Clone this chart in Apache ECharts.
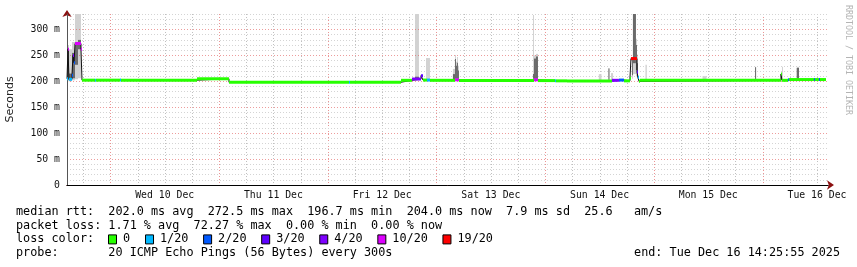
<!DOCTYPE html>
<html><head><meta charset="utf-8">
<script src="https://cdn.jsdelivr.net/npm/echarts@6/dist/echarts.min.js"></script>
<style>html,body{margin:0;padding:0;background:#fff}#c{width:857px;height:267px}</style>
</head><body><div id="c"></div>
<script>
// ---- time axis: hours since graph start (Tue Dec 9 14:25:55 2025), span 7 days ----
const spanH = 168;
const firstMidnightH = 9.568;           // Wed 10 Dec 00:00 in hours from start
const dayLabels = ['Wed 10 Dec','Thu 11 Dec','Fri 12 Dec','Sat 13 Dec','Sun 14 Dec','Mon 15 Dec','Tue 16 Dec'];
const yMin = 0, yMax = 330, yStep = 10;
const yLabelValues = [0, 50, 100, 150, 200, 250, 300];

// ---- median rtt (ms) per segment start (hours) and packet loss (of 20) ----
const medT = [0, 0.22, 0.44, 1.10, 1.32, 1.55, 1.77, 3.09, 3.31, 6.18, 6.40, 11.70, 11.92, 28.70, 35.76, 62.25, 62.47, 73.73, 76.16, 78.15, 78.59, 79.47, 80.13, 85.65, 86.53, 103.09, 103.97, 107.73, 107.95, 110.38, 120.31, 121.85, 122.96, 124.28, 124.50, 125.83, 126.05, 126.27, 126.49, 157.62, 157.84, 159.16, 159.38, 164.90, 165.12, 166.00, 166.23];
const medV = [205, 262, 204, 212, 250, 236, 273, 262, 202.3, 202.3, 202.3, 202.5, 202.3, 205, 198.3, 198.3, 198.3, 202, 204.5, 211, 202.5, 202.5, 202, 203, 201.7, 203, 201.5, 201, 201, 200.8, 202, 202.5, 201, 206, 244, 218, 208, 200, 202, 214, 202, 203, 203.5, 203.5, 203.5, 203.5, 203.5];
const medL = [1, 10, 1, 2, 4, 2, 10, 10, 0, 1, 0, 1, 0, 0, 0, 1, 0, 0, 4, 3, 0, 1, 0, 10, 0, 10, 0, 1, 0, 0, 4, 2, 0, 0, 19, 3, 1, 0, 0, 0, 0, 2, 0, 2, 0, 2, 0];
const endT = 167.55;

// ---- smoke (ping spread, ms): outer min/max and inner core ----
const smT0 = [0.00, 0.44, 1.10, 1.77, 2.43, 76.82, 79.25, 85.20, 85.65, 85.87, 86.09, 86.31, 102.87, 103.09, 103.53, 117.40, 119.53, 120.10, 124.72, 124.94, 125.60, 125.83, 127.70, 140.30, 151.90, 157.84, 161.10];
const smT1 = [0.44, 1.10, 1.77, 2.43, 3.09, 77.70, 80.13, 85.65, 85.87, 86.09, 86.31, 86.53, 103.09, 103.53, 103.97, 118.00, 119.75, 120.55, 124.94, 125.60, 125.83, 126.05, 128.00, 141.20, 152.12, 158.06, 161.60];
const smMin = [200, 200, 202, 204, 206, 202, 202, 203, 203, 203, 203, 203, 203, 203, 203, 201, 202, 202, 205, 214, 210, 205, 202, 202, 202, 202, 202];
const smMax = [270, 262, 276, 330, 330, 330, 245, 224, 251, 238, 247, 230, 328, 250, 253, 214, 226, 216, 246, 330, 282, 252, 232, 210, 228, 228, 228];
const smLo  = [203, 203, 206, 232, 262, 203, null, 204, 205, 205, 205, 205, 205, 205, 205, null, 203, null, 212, 235, 222, 208, null, null, 203, null, 204];
const smHi  = [262, 215, 255, 276, 280, 209, null, 214, 243, 230, 236, 221, 214, 244, 248, null, 225, null, 242, 330, 270, 235, null, null, 227, null, 226];

// ---- loss colour legend ----
const lossLevels = [0, 1, 2, 3, 4, 10, 19];
const lossLabels = ['0', '1/20', '2/20', '3/20', '4/20', '10/20', '19/20'];
const lossColors = ['#26ff00', '#00b8ff', '#0059ff', '#5e00ff', '#7e00ff', '#dd00ff', '#ff0000'];

const legendRows = [
  'median rtt:  202.0 ms avg  272.5 ms max  196.7 ms min  204.0 ms now  7.9 ms sd  25.6   am/s',
  'packet loss: 1.71 % avg  72.27 % max  0.00 % min  0.00 % now',
  'loss color:',
  'probe:       20 ICMP Echo Pings (56 Bytes) every 300s'
];
const endText = 'end: Tue Dec 16 14:25:55 2025';
const watermark = 'RRDTOOL / TOBI OETIKER';

// ---------------------------------------------------------------
const MONO = '"DejaVu Sans Mono", monospace';
const colorOf = l => lossColors[lossLevels.indexOf(l)];

const vLines = [];
for (let k = 0; ; k++) {
  const h = firstMidnightH - 6 + 6 * k;
  if (h >= spanH) break;
  if (h <= 0) continue;
  vLines.push([h, (k % 4 === 1) ? 1 : 0]);
}
const noonVals = dayLabels.map((d, i) => firstMidnightH + 12 + 24 * i);

const outerData = smT0.map((t, i) => [t, smT1[i], smMin[i], smMax[i]]);
const innerData = smT0.map((t, i) => [t, smT1[i], smLo[i], smHi[i]]).filter(d => d[2] != null);
const medSeg = medT.map((t, i) => [t, i + 1 < medT.length ? medT[i + 1] : endT, medV[i], medL[i]]);
const medStep = medT.map((t, i) => [t, medV[i]]).concat([[endT, medV[medV.length - 1]]]);

function rectRender(fill) {
  return function (params, api) {
    const p0 = api.coord([api.value(0), api.value(3)]);
    const p1 = api.coord([api.value(1), api.value(2)]);
    return { type: 'rect', shape: { x: p0[0], y: p0[1], width: Math.max(1, p1[0] - p0[0]), height: Math.max(1, p1[1] - p0[1]) }, style: { fill: fill } };
  };
}

const graphics = [];
const FS = '11.8px ';
const rowY = [211.8, 225.6, 239.4, 253.3];
legendRows.forEach((t, i) => graphics.push({ type: 'text', x: 16, y: rowY[i], style: { text: t, font: FS + MONO, fill: '#000', verticalAlign: 'middle' } }));
graphics.push({ type: 'text', x: 840, y: rowY[3], style: { text: endText, font: FS + MONO, fill: '#000', align: 'right', verticalAlign: 'middle' } });
let cx = 108;
lossLabels.forEach((lab, i) => {
  graphics.push({ type: 'rect', shape: { x: cx + 0.5, y: rowY[2] - 4.5, width: 8, height: 9 }, style: { fill: lossColors[i], stroke: '#000', lineWidth: 1 } });
  graphics.push({ type: 'text', x: cx + 15, y: rowY[2], style: { text: lab, font: FS + MONO, fill: '#000', verticalAlign: 'middle' } });
  cx += 15 + lab.length * 7.02 + 15;
});
graphics.push({ type: 'text', x: 848, y: 5, rotation: -Math.PI / 2, style: { text: watermark, font: '8.3px ' + MONO, fill: '#b4b4b4', align: 'left', verticalAlign: 'middle' } });

const chart = echarts.init(document.getElementById('c'), null, { renderer: 'canvas' });
chart.setOption({
  animation: false,
  backgroundColor: '#fff',
  grid: { left: 67, right: 29, top: 14, bottom: 82, containLabel: false, outerBoundsMode: 'none' },
  xAxis: [{
    type: 'value', min: 0, max: spanH, position: 'bottom', z: 3,
    axisLine: { show: true, onZero: false, lineStyle: { color: '#000', width: 1 } },
    axisTick: { show: false },
    splitLine: { show: false },
    axisLabel: { customValues: noonVals, margin: 5, fontFamily: MONO, fontSize: 9.8, color: '#111',
      formatter: v => dayLabels[Math.round((v - firstMidnightH - 12) / 24)] || '' }
  }, {
    type: 'value', min: 0, max: spanH, position: 'bottom', z: 2,
    axisLine: { show: true, onZero: false, symbol: ['none', 'arrow'], symbolSize: [7, 7], symbolOffset: [0, 6], lineStyle: { color: '#8b1010', width: 1 } },
    axisTick: { show: false }, splitLine: { show: false }, axisLabel: { show: false }
  }],
  yAxis: [{
    type: 'value', min: yMin, max: yMax, interval: yStep, position: 'left', z: 3,
    name: 'Seconds', nameLocation: 'middle', nameGap: 51, nameRotate: 90,
    nameTextStyle: { fontFamily: '"DejaVu Sans", sans-serif', fontSize: 11, color: '#222' },
    axisLine: { show: true, onZero: false, lineStyle: { color: '#555', width: 1 } },
    axisTick: { show: false },
    axisLabel: { margin: 7, fontFamily: MONO, fontSize: 9.8, color: '#111',
      formatter: v => yLabelValues.indexOf(v) >= 0 ? (v === 0 ? '0' : v + ' m') : '' },
    splitLine: { show: true, lineStyle: { type: [1, 2], width: 1,
      color: ['rgba(225,90,90,0.6)', '#d4d4d4', '#d4d4d4', '#d4d4d4', '#d4d4d4'] } }
  }, {
    type: 'value', min: yMin, max: yMax, position: 'left', z: 2,
    axisLine: { show: true, onZero: false, symbol: ['none', 'arrow'], symbolSize: [7, 7], symbolOffset: [0, 4], lineStyle: { color: '#8b1010', width: 1 } },
    axisTick: { show: false }, splitLine: { show: false }, axisLabel: { show: false }
  }],
  graphic: graphics,
  series: [
    { type: 'custom', name: 'vgrid', data: vLines, z: 1, silent: true, clip: false,
      renderItem: function (params, api) {
        const cs = params.coordSys;
        const x = Math.round(api.coord([api.value(0), 0])[0]) + 0.5;
        const day = api.value(1) === 1;
        return { type: 'line', shape: { x1: x, y1: cs.y, x2: x, y2: cs.y + cs.height + 3 },
          style: { stroke: day ? 'rgba(225,90,90,0.65)' : '#c0c0c0', lineWidth: 1, lineDash: [1, 2] } };
      } },
    { type: 'custom', name: 'smoke', data: outerData, z: 2, silent: true, renderItem: rectRender('#d2d2d2') },
    { type: 'custom', name: 'smokeCore', data: innerData, z: 3, silent: true, renderItem: rectRender('#6a6a6a') },
    { type: 'line', name: 'medianStep', data: medStep, step: 'end', symbol: 'none', z: 4, silent: true,
      lineStyle: { color: '#111', width: 1 } },
    { type: 'custom', name: 'median', data: medSeg, z: 5, silent: true,
      renderItem: function (params, api) {
        const p0 = api.coord([api.value(0), api.value(2)]);
        const p1 = api.coord([api.value(1), api.value(2)]);
        return { type: 'rect', shape: { x: p0[0], y: p0[1] - 1.5, width: Math.max(1, p1[0] - p0[0]), height: 3 },
          style: { fill: colorOf(api.value(3)) } };
      } }
  ]
});
</script></body></html>
